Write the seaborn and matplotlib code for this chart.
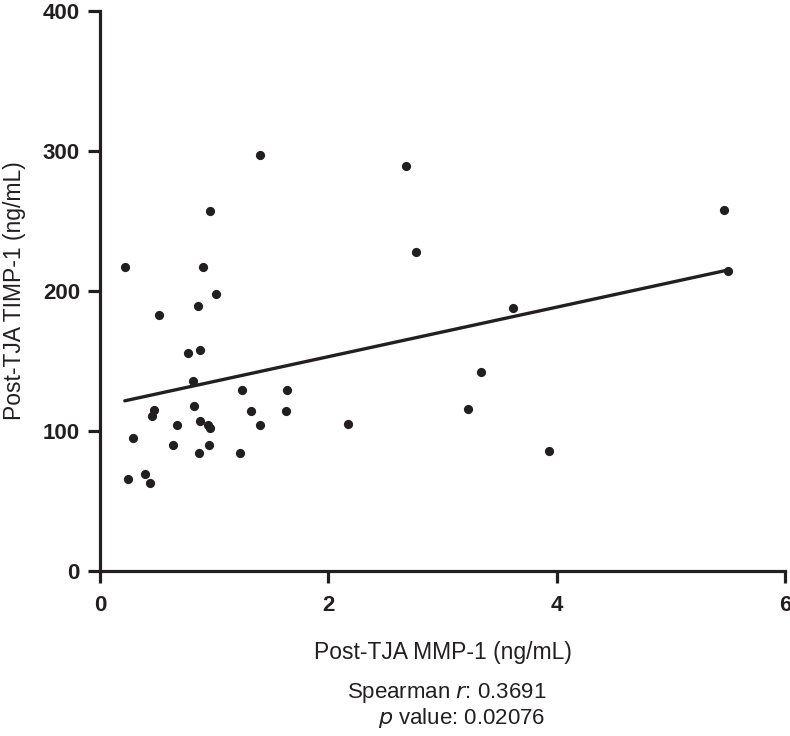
# Post-TJA MMP-1 vs TIMP-1 scatter with linear fit

import matplotlib
matplotlib.use("Agg")
import matplotlib.pyplot as plt
import seaborn as sns
import pandas as pd

mmp1 = [0.217, 0.249, 0.287, 0.395, 0.436, 0.456, 0.471, 0.518, 0.637, 0.675,
        0.771, 0.815, 0.827, 0.856, 0.865, 0.876, 0.876, 0.905, 0.952, 0.961,
        0.950, 0.967, 1.017, 1.226, 1.247, 1.325, 1.404, 1.405, 1.626, 1.635,
        2.168, 2.681, 2.772, 3.221, 3.341, 3.621, 3.930, 5.470, 5.501]
timp1 = [217, 66, 95, 69, 63, 111, 115, 183, 90, 104,
         156, 136, 118, 189, 84, 107, 158, 217, 90, 102,
         104, 257, 198, 84.5, 129, 114, 104.5, 297, 114, 129,
         105, 289, 228, 116, 142, 188, 85.5, 258, 214]

x_ticks = [0, 2, 4, 6]
y_ticks = [0, 100, 200, 300, 400]

df = pd.DataFrame({'mmp1': mmp1, 'timp1': timp1})

sns.set_style("ticks")
plt.rcParams['font.family'] = ['Liberation Sans', 'DejaVu Sans']
ink = '#231f20'

fig = plt.figure(figsize=(7.9, 7.36), dpi=100)
ax = fig.add_axes([0.1266, 0.2242, 0.867, 0.7608])

sns.regplot(data=df, x='mmp1', y='timp1', ax=ax, ci=None, truncate=True,
            scatter_kws={'s': 44, 'color': ink, 'linewidths': 0, 'alpha': 1},
            line_kws={'color': ink, 'linewidth': 2.4})

ax.set_xlim(0, 6)
ax.set_ylim(0, 400)
ax.set_xticks(x_ticks)
ax.set_yticks(y_ticks)
ax.set_xticklabels([str(t) for t in x_ticks], fontweight='bold', fontsize=16, color=ink)
ax.set_yticklabels([str(t) for t in y_ticks], fontweight='bold', fontsize=16, color=ink)
ax.tick_params(direction='out', length=8.5, width=2.3, color=ink)
ax.tick_params(axis='x', pad=9)
ax.tick_params(axis='y', pad=6)
for side in ['top', 'right']:
    ax.spines[side].set_visible(False)
for side in ['left', 'bottom']:
    ax.spines[side].set_linewidth(2.3)
    ax.spines[side].set_color(ink)

ax.set_xlabel('Post-TJA MMP-1 (ng/mL)', fontsize=16.5, color=ink, labelpad=18)
ax.set_ylabel('Post-TJA TIMP-1 (ng/mL)', fontsize=16.5, color=ink, labelpad=12)

fig.text(0.4393, 0.058, 'Spearman $\\mathit{r}$: 0.3691', fontsize=16, color=ink,
         ha='left', va='center')
fig.text(0.4785, 0.024, '$\\mathit{p}$ value: 0.02076', fontsize=16, color=ink,
         ha='left', va='center')

fig.savefig('out.png', dpi=100)
